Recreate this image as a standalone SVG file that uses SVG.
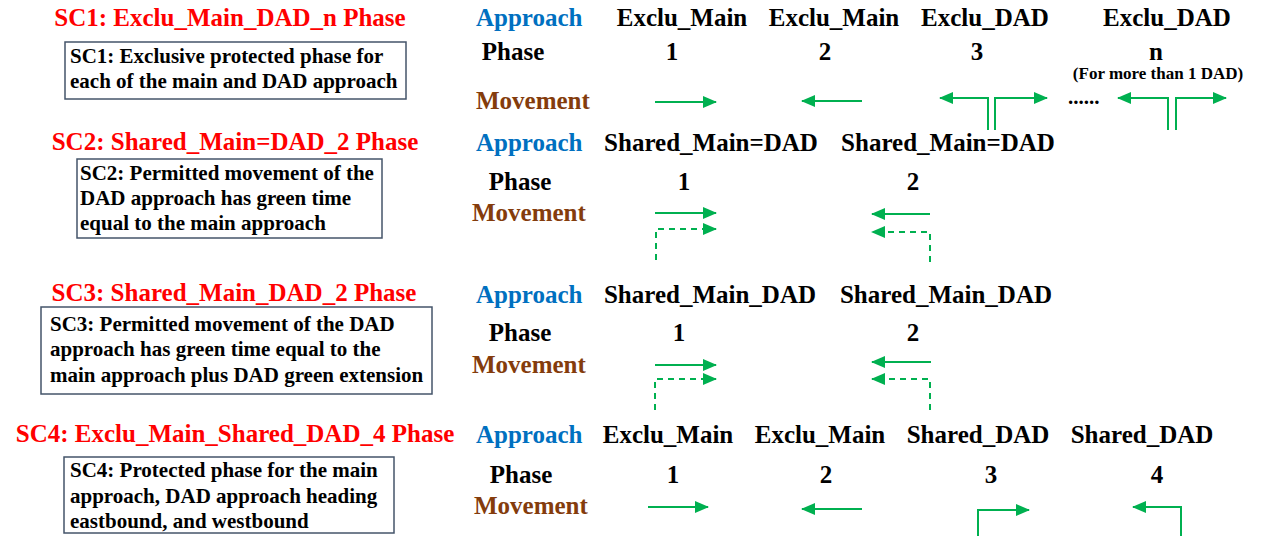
<svg xmlns="http://www.w3.org/2000/svg" width="1262" height="536" viewBox="0 0 1262 536">
<style>
text{font-family:"Liberation Serif","Times New Roman",serif;font-weight:bold;}
.title{fill:#FF0000;font-size:25px;text-anchor:middle;}
.desc{fill:#000;font-size:21px;}
.box{fill:#fff;stroke:#44546A;stroke-width:1.5;}
.hdr{font-size:25px;fill:#000;text-anchor:middle;}
.appr{font-size:25px;fill:#0070C0;}
.mov{font-size:25px;fill:#843C0C;}
.small{font-size:17px;fill:#000;text-anchor:middle;}
.g{fill:none;stroke:#00B050;stroke-width:2;}
.d{stroke-dasharray:6,5;}
</style>
<defs>
<marker id="ah" markerUnits="userSpaceOnUse" markerWidth="14" markerHeight="14" refX="13" refY="7" orient="auto">
<path d="M0,1 L14,7 L0,13 z" fill="#00B050"/>
</marker>
</defs>
<rect width="1262" height="536" fill="#fff"/>

<g id="sc1">
<text class="title" x="230" y="26">SC1: Exclu_Main_DAD_n Phase</text>
<rect class="box" x="65" y="42" width="341" height="57"/>
<text class="desc" x="70" y="63">SC1: Exclusive protected phase for</text>
<text class="desc" x="70" y="88">each of the main and DAD approach</text>
<text class="appr" x="476" y="26">Approach</text>
<text class="hdr" x="682" y="26">Exclu_Main</text>
<text class="hdr" x="834" y="26">Exclu_Main</text>
<text class="hdr" x="985" y="26">Exclu_DAD</text>
<text class="hdr" x="1167" y="26">Exclu_DAD</text>
<text class="hdr" x="513" y="60">Phase</text>
<text class="hdr" x="672" y="60">1</text>
<text class="hdr" x="825" y="60">2</text>
<text class="hdr" x="977" y="60">3</text>
<text class="hdr" x="1156" y="60">n</text>
<text class="small" x="1158" y="79">(For more than 1 DAD)</text>
<text class="mov" x="476" y="109">Movement</text>
<text class="desc" x="1068" y="104">......</text>
</g>

<g id="sc2">
<text class="title" x="235" y="150">SC2: Shared_Main=DAD_2 Phase</text>
<rect class="box" x="77" y="159" width="305" height="79"/>
<text class="desc" x="80" y="180">SC2: Permitted movement of the</text>
<text class="desc" x="80" y="205">DAD approach has green time</text>
<text class="desc" x="80" y="230">equal to the main approach</text>
<text class="appr" x="476" y="151">Approach</text>
<text class="hdr" x="711" y="151">Shared_Main=DAD</text>
<text class="hdr" x="948" y="151">Shared_Main=DAD</text>
<text class="hdr" x="520" y="190">Phase</text>
<text class="hdr" x="684" y="190">1</text>
<text class="hdr" x="913" y="190">2</text>
<text class="mov" x="472" y="221">Movement</text>
</g>

<g id="sc3">
<text class="title" x="234" y="301">SC3: Shared_Main_DAD_2 Phase</text>
<rect class="box" x="41" y="307" width="391" height="87"/>
<text class="desc" x="50" y="331">SC3: Permitted movement of the DAD</text>
<text class="desc" x="50" y="356">approach has green time equal to the</text>
<text class="desc" x="50" y="382">main approach plus DAD green extension</text>
<text class="appr" x="476" y="303">Approach</text>
<text class="hdr" x="710" y="303">Shared_Main_DAD</text>
<text class="hdr" x="946" y="303">Shared_Main_DAD</text>
<text class="hdr" x="520" y="341">Phase</text>
<text class="hdr" x="679" y="341">1</text>
<text class="hdr" x="913" y="341">2</text>
<text class="mov" x="472" y="373">Movement</text>
</g>

<g id="sc4">
<text class="title" x="235" y="442">SC4: Exclu_Main_Shared_DAD_4 Phase</text>
<rect class="box" x="64" y="457" width="330" height="76"/>
<text class="desc" x="70" y="477">SC4: Protected phase for the main</text>
<text class="desc" x="70" y="503">approach, DAD approach heading</text>
<text class="desc" x="70" y="528">eastbound, and westbound</text>
<text class="appr" x="476" y="443">Approach</text>
<text class="hdr" x="668" y="443">Exclu_Main</text>
<text class="hdr" x="820" y="443">Exclu_Main</text>
<text class="hdr" x="978" y="443">Shared_DAD</text>
<text class="hdr" x="1142" y="443">Shared_DAD</text>
<text class="hdr" x="521" y="483">Phase</text>
<text class="hdr" x="673" y="483">1</text>
<text class="hdr" x="826" y="483">2</text>
<text class="hdr" x="991" y="483">3</text>
<text class="hdr" x="1157" y="483">4</text>
<text class="mov" x="474" y="514">Movement</text>
</g>

<g id="connectors">
<path class="g" d="M655,102 H716" marker-end="url(#ah)"/>
<path class="g" d="M862,101 H802" marker-end="url(#ah)"/>
<path class="g" d="M988,130 V98 H940" marker-end="url(#ah)"/>
<path class="g" d="M995,130 V98 H1047" marker-end="url(#ah)"/>
<path class="g" d="M1168,130 V98 H1118" marker-end="url(#ah)"/>
<path class="g" d="M1176,130 V98 H1226" marker-end="url(#ah)"/>

<path class="g" d="M655,213 H716" marker-end="url(#ah)"/>
<path class="g d" d="M656,260 V229 H716" marker-end="url(#ah)"/>
<path class="g" d="M930,214 H872" marker-end="url(#ah)"/>
<path class="g d" d="M930,262 V232 H872" marker-end="url(#ah)"/>

<path class="g" d="M655,365 H716" marker-end="url(#ah)"/>
<path class="g d" d="M655,410 V379 H716" marker-end="url(#ah)"/>
<path class="g" d="M931,362 H872" marker-end="url(#ah)"/>
<path class="g d" d="M930,410 V379 H872" marker-end="url(#ah)"/>

<path class="g" d="M648,507 H708" marker-end="url(#ah)"/>
<path class="g" d="M862,509 H802" marker-end="url(#ah)"/>
<path class="g" d="M978,536 V510 H1029" marker-end="url(#ah)"/>
<path class="g" d="M1181,536 V507 H1133" marker-end="url(#ah)"/>
</g>
</svg>
